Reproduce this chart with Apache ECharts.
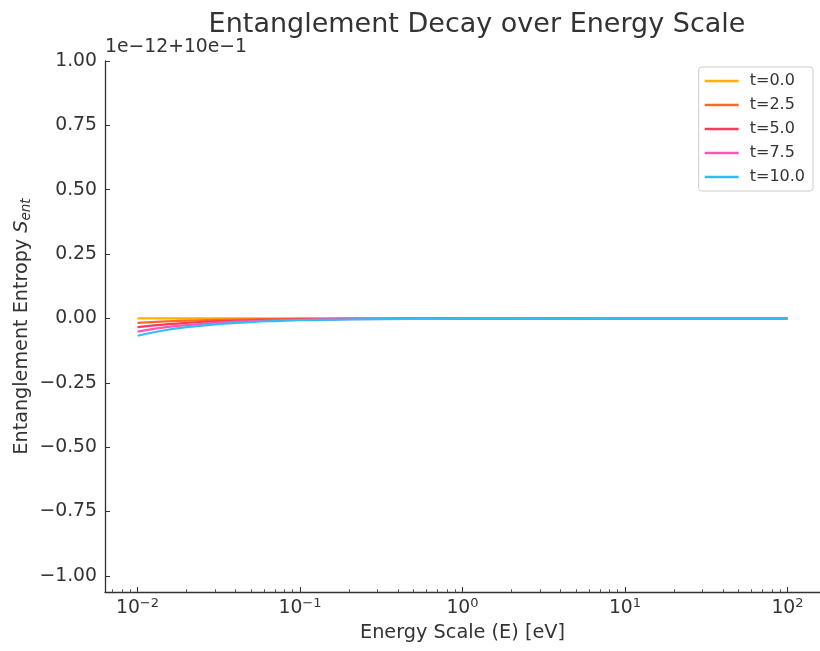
<!DOCTYPE html>
<html>
<head>
<meta charset="utf-8">
<script src="https://cdn.jsdelivr.net/npm/echarts@6/dist/echarts.min.js"></script>
<style>
html,body{margin:0;padding:0;background:#fff;}
#chart{width:820px;height:651px;}
</style>
</head>
<body>
<div id="chart"></div>
<script>
// Energy sample points (eV)
const energies = [0.01, 0.015, 0.02, 0.03, 0.05, 0.07, 0.1, 0.2, 0.5, 1, 10, 100];
// Series values: offset from 1, in units of 1e-12
const seriesNames = ['t=0.0', 't=2.5', 't=5.0', 't=7.5', 't=10.0'];
const s_t0   = [0, 0, 0, 0, 0, 0, 0, 0, 0, 0, 0, 0];
const s_t2_5 = [-0.017, -0.011, -0.0085, -0.0058, -0.0035, -0.0025, -0.0018, -0.001, -0.0005, -0.0002, 0, 0];
const s_t5   = [-0.034, -0.023, -0.017, -0.0115, -0.007, -0.005, -0.0035, -0.002, -0.001, -0.0005, 0, 0];
const s_t7_5 = [-0.051, -0.034, -0.026, -0.017, -0.0105, -0.0075, -0.0053, -0.003, -0.0015, -0.0007, 0, 0];
const s_t10  = [-0.067, -0.045, -0.034, -0.023, -0.014, -0.010, -0.007, -0.004, -0.002, -0.001, 0, 0];
const seriesValues = [s_t0, s_t2_5, s_t5, s_t7_5, s_t10];
const colors = ['#FFB000', '#F96A25', '#F63E5C', '#FF55B8', '#2EBFF4'];
// Tick labels
const xTickExps = [-2, -1, 0, 1, 2];
const yTicks = [-1.00, -0.75, -0.50, -0.25, 0.00, 0.25, 0.50, 0.75, 1.00];

const minorTicks = [];
for (let n = -3; n <= 2; n++) {
  for (let k = 2; k <= 9; k++) {
    const v = Math.log10(k) + n;
    if (v > -2.2 && v < 2.2) minorTicks.push(v);
  }
}

const textColor = '#333333';
const chart = echarts.init(document.getElementById('chart'), null, {renderer: 'canvas'});
const font = 'DejaVu Sans';
const fs = 18.8;

const series = seriesNames.map((name, i) => ({
  name: name,
  type: 'line',
  showSymbol: false,
  symbol: 'none',
  smooth: true,
  xAxisIndex: 0,
  lineStyle: {width: 2.2, color: colors[i]},
  itemStyle: {color: colors[i]},
  data: energies.map((e, j) => [Math.log10(e), seriesValues[i][j]])
}));

chart.setOption({
  animation: false,
  backgroundColor: '#fff',
  textStyle: {fontFamily: font},
  title: {
    text: 'Entanglement Decay over Energy Scale',
    left: 472, textAlign: 'center', top: 6,
    textStyle: {fontFamily: font, fontSize: 27, fontWeight: 'normal', color: textColor}
  },
  graphic: [{
    type: 'text', left: 105, top: 38,
    style: {text: '1e\u221212+10e\u22121', font: fs + 'px DejaVu Sans', fill: textColor}
  }],
  legend: {
    right: 7, top: 67, orient: 'vertical',
    icon: 'rect', itemWidth: 34, itemHeight: 2.5, itemGap: 8,
    padding: [6, 8, 6, 6],
    borderColor: '#cccccc', borderWidth: 1, borderRadius: 3,
    textStyle: {fontFamily: font, fontSize: 16, color: textColor, lineHeight: 16, padding: [0, 0, 0, 6]},
    data: seriesNames
  },
  grid: {left: 105, top: 61, width: 716, bottom: 59, containLabel: false},
  xAxis: [{
    type: 'value', min: -2.2, max: 2.2,
    name: 'Energy Scale (E) [eV]', nameLocation: 'middle', nameGap: 31, nameMoveOverlap: false,
    nameTextStyle: {fontFamily: font, fontSize: 19.3, color: textColor},
    axisLine: {onZero: false, lineStyle: {color: textColor, width: 1.3}},
    axisTick: {show: true, inside: true, length: 5, customValues: xTickExps, lineStyle: {color: textColor, width: 1}},
    axisLabel: {
      customValues: xTickExps, margin: 5, color: textColor,
      formatter: v => '{b|10}{s|' + String(Math.round(v)).replace('-', '\u2212') + '}',
      rich: {
        b: {fontFamily: font, fontSize: fs, color: textColor},
        s: {fontFamily: font, fontSize: 13, color: textColor, padding: [0, 0, 10, 0]}
      }
    },
    splitLine: {show: false}
  }, {
    type: 'value', min: -2.2, max: 2.2, position: 'bottom',
    axisLine: {show: false, onZero: false},
    axisTick: {show: true, inside: true, length: 2.8, customValues: minorTicks, lineStyle: {color: textColor, width: 0.8}},
    axisLabel: {show: false},
    splitLine: {show: false}
  }],
  yAxis: {
    type: 'value', min: -1.0625, max: 1.0,
    name: '{n|Entanglement Entropy }{i|S}{sub|ent}', nameLocation: 'middle', nameGap: 72, nameMoveOverlap: false,
    nameTextStyle: {
      fontFamily: font, fontSize: 19.2, color: textColor,
      rich: {
        n: {fontFamily: font, fontSize: 19.2, color: textColor},
        i: {fontFamily: font, fontSize: 19.2, fontStyle: 'italic', color: textColor},
        sub: {fontFamily: font, fontSize: 13.5, fontStyle: 'italic', color: textColor, padding: [7, 0, 0, 0]}
      }
    },
    axisLine: {show: true, onZero: false, lineStyle: {color: textColor, width: 1.3}},
    axisTick: {show: true, inside: true, length: 5, customValues: yTicks, lineStyle: {color: textColor, width: 1}},
    axisLabel: {
      customValues: yTicks, margin: 8, color: textColor, fontFamily: font, fontSize: fs,
      formatter: v => v.toFixed(2).replace('-', '\u2212')
    },
    splitLine: {show: false}
  },
  series: series
});
</script>
</body>
</html>
